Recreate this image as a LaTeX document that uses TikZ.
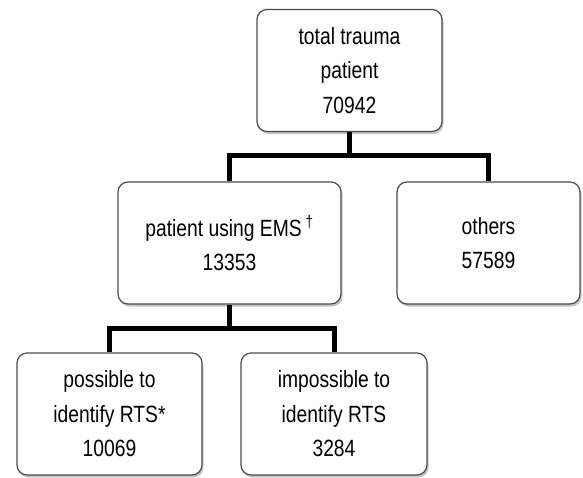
\documentclass[tikz,border=0pt]{standalone}
\usepackage{fontspec}
\setmainfont{Liberation Sans}[FakeStretch=0.82]
\usetikzlibrary{shapes,arrows,positioning,calc,shadows}

\tikzset{
    box/.style={rectangle, rounded corners=10pt, draw=black!70, line width=1.2pt, fill=white,
        drop shadow={shadow xshift=1.5pt, shadow yshift=-2.5pt, fill=black!45},
        minimum height=122pt, inner sep=0pt, align=center,
        font=\fontsize{23.5}{34.5}\selectfont},
    link/.style={line width=5pt}
}

\begin{document}
\begin{tikzpicture}[x=1pt, y=-1pt]
    \useasboundingbox (0,0) rectangle (583,477);

    \node[box, minimum width=185pt] (total) at (349.5,70.5) {total trauma\\patient\\70942};
    \node[box, minimum width=223pt] (ems) at (229.5,243) {patient using EMS\,\textsuperscript{\textdagger}\\13353};
    \node[box, minimum width=183pt] (others) at (488.5,243) {others\\57589};
    \node[box, minimum width=185pt] (possible) at (109.5,414) {possible to\\identify RTS*\\10069};
    \node[box, minimum width=186pt] (impossible) at (334,414) {impossible to\\identify RTS\\3284};

    % Branch links
    \coordinate (split1) at (349.5,155);
    \coordinate (split2) at (229.5,328);
    \draw[link] (total.south) -- (split1);
    \draw[link] (ems.north) |- (split1) -| (others.north);
    \draw[link] (ems.south) -- (split2);
    \draw[link] (possible.north) |- (split2) -| (impossible.north);
\end{tikzpicture}
\end{document}
